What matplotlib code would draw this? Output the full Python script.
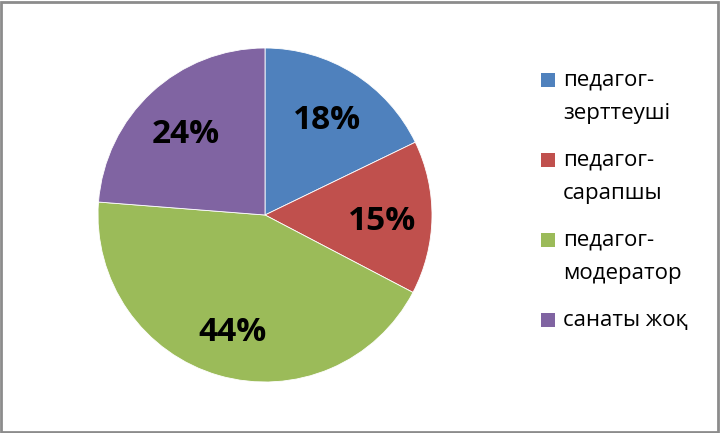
import matplotlib
matplotlib.use('Agg')
import matplotlib.pyplot as plt
from matplotlib.patches import Rectangle

labels = ['педагог-\nзерттеуші', 'педагог-\nсарапшы', 'педагог-\nмодератор', 'санаты жоқ']
values = [18, 15, 44, 24]
colors = ['#4F81BD', '#C0504D', '#9BBB59', '#8064A2']

plt.rcParams['font.family'] = ['Open Sans', 'DejaVu Sans']

W, H = 720, 433
fig = plt.figure(figsize=(W / 100, H / 100), dpi=100)

# pie centred at (265, 215) px, radius 167 px
ax = fig.add_axes([(265 - 167) / W, (H - 382) / H, 334 / W, 334 / H])
wedges, texts, autotexts = ax.pie(
    values, colors=colors, startangle=90, counterclock=False,
    autopct='%.0f%%', pctdistance=0.7,
    wedgeprops=dict(edgecolor='white', linewidth=0.6),
    textprops=dict(fontsize=24, fontweight='bold', color='black'))
for t in autotexts:
    x, y = t.get_position()
    t.set_position((x, y - 0.03))  # Excel sits the numbers a touch lower
ax.set_xlim(-1, 1)
ax.set_ylim(-1, 1)
ax.set_aspect('equal')

# legend drawn by hand to match the two-line layout
sq = 14
for i, (lab, col) in enumerate(zip(labels, colors)):
    yc = 80 + 80 * i
    fig.patches.append(Rectangle((541 / W, 1 - (yc + sq / 2) / H), sq / W, sq / H,
                                 transform=fig.transFigure, facecolor=col,
                                 edgecolor='none'))
    for j, line in enumerate(lab.split('\n')):
        fig.text(563 / W, 1 - (yc + 34 * j) / H, line, fontsize=16,
                 va='center', ha='left', color='black')

# chart border
fig.patches.append(Rectangle((0.5 / W, 1.5 / H), (W - 3) / W, (H - 3) / H,
                             transform=fig.transFigure, fill=False,
                             edgecolor='#8c8c8c', linewidth=2))

fig.savefig('out.png', dpi=100)
